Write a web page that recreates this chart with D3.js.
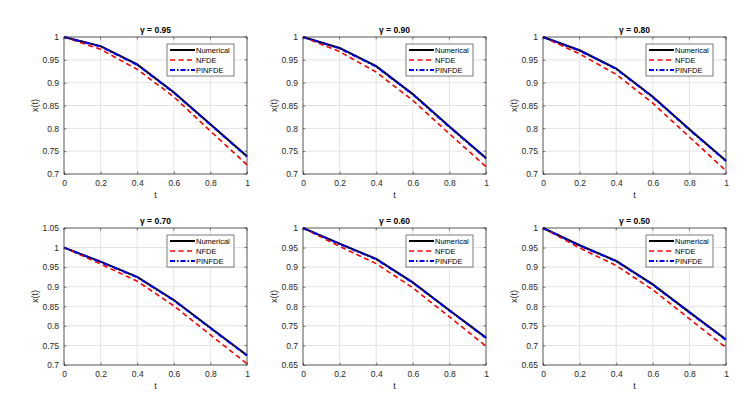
<!DOCTYPE html>
<html>
<head>
<meta charset="utf-8">
<script src="https://cdn.jsdelivr.net/npm/d3@7"></script>
<style>
  body { margin: 0; background: #fff; }
  svg { font-family: "Liberation Sans", Arial, sans-serif; }
</style>
</head>
<body>
<svg id="fig"></svg>
<script>
const width = 748;
const height = 404;

// data
const tValues = [0, 0.2, 0.4, 0.6, 0.8, 1];
const gammas = ["0.95", "0.90", "0.80", "0.70", "0.60", "0.50"];
const numerical = [
  [1, 0.980, 0.940, 0.879, 0.809, 0.739],
  [1, 0.976, 0.936, 0.875, 0.804, 0.735],
  [1, 0.971, 0.931, 0.869, 0.798, 0.729],
  [1, 0.964, 0.925, 0.866, 0.795, 0.725],
  [1, 0.960, 0.921, 0.861, 0.790, 0.720],
  [1, 0.956, 0.916, 0.856, 0.785, 0.715]
];
const nfde = [
  [1, 0.973, 0.929, 0.869, 0.794, 0.720],
  [1, 0.968, 0.923, 0.861, 0.788, 0.716],
  [1, 0.963, 0.918, 0.855, 0.781, 0.707],
  [1, 0.958, 0.914, 0.851, 0.777, 0.703],
  [1, 0.953, 0.909, 0.847, 0.773, 0.698],
  [1, 0.949, 0.904, 0.842, 0.768, 0.694]
];
const pinfde = [
  [1, 0.979, 0.939, 0.878, 0.808, 0.738],
  [1, 0.975, 0.935, 0.874, 0.803, 0.734],
  [1, 0.970, 0.930, 0.868, 0.797, 0.728],
  [1, 0.963, 0.924, 0.865, 0.794, 0.724],
  [1, 0.959, 0.920, 0.860, 0.789, 0.719],
  [1, 0.955, 0.915, 0.855, 0.784, 0.714]
];
const yDomains = [
  [0.7, 1], [0.7, 1], [0.7, 1],
  [0.7, 1.05], [0.65, 1], [0.65, 1]
];
const xTicks = [0, 0.2, 0.4, 0.6, 0.8, 1];
const seriesNames = ["Numerical", "NFDE", "PINFDE"];

const colLeft = [64, 303, 543];
const rowTop = [37, 228];
const axW = 183;
const axH = 137;

const styles = [
  { color: "#000000", width: 2, dash: null },
  { color: "#ff0000", width: 1.6, dash: "5,3.5" },
  { color: "#0000ff", width: 2, dash: "5,2,1.5,2" }
];

const svg = d3.select("#fig").attr("width", width).attr("height", height);

function fmt(v) {
  return String(+v.toFixed(2));
}

gammas.forEach((g, i) => {
  const ox = colLeft[i % 3];
  const oy = rowTop[Math.floor(i / 3)];
  const ax = svg.append("g").attr("transform", `translate(${ox},${oy})`);

  const x = d3.scaleLinear().domain([0, 1]).range([0, axW]);
  const y = d3.scaleLinear().domain(yDomains[i]).range([axH, 0]);
  const yTicks = d3.range(yDomains[i][0], yDomains[i][1] + 1e-9, 0.05);

  // grid
  ax.append("g")
    .selectAll("line")
    .data(xTicks)
    .join("line")
    .attr("x1", (d) => x(d)).attr("x2", (d) => x(d))
    .attr("y1", 0).attr("y2", axH)
    .attr("stroke", "#e3e3e3").attr("stroke-width", 1);
  ax.append("g")
    .selectAll("line")
    .data(yTicks)
    .join("line")
    .attr("x1", 0).attr("x2", axW)
    .attr("y1", (d) => y(d)).attr("y2", (d) => y(d))
    .attr("stroke", "#e3e3e3").attr("stroke-width", 1);

  // curves
  [numerical[i], nfde[i], pinfde[i]].forEach((vals, k) => {
    const s = styles[k];
    ax.append("path")
      .datum(vals)
      .attr("fill", "none")
      .attr("stroke", s.color)
      .attr("stroke-width", s.width)
      .attr("stroke-dasharray", s.dash)
      .attr("d", d3.line().x((d, j) => x(tValues[j])).y((d) => y(d)));
  });

  // axes (ticks pointing inward, MATLAB style)
  const xAxis = d3.axisBottom(x).tickValues(xTicks).tickSize(-2.5).tickPadding(6).tickFormat(fmt);
  const yAxis = d3.axisLeft(y).tickValues(yTicks).tickSize(-2.5).tickPadding(5).tickFormat(fmt);
  const gx = ax.append("g").attr("transform", `translate(0,${axH})`).call(xAxis);
  const gy = ax.append("g").call(yAxis);
  [gx, gy].forEach((a) => {
    a.select(".domain").remove();
    a.selectAll("line").attr("stroke", "#262626").attr("stroke-width", 0.6);
    a.selectAll("text").attr("fill", "#262626").style("font-size", "8.5px");
  });

  // box
  ax.append("rect")
    .attr("width", axW).attr("height", axH)
    .attr("fill", "none").attr("stroke", "#262626").attr("stroke-width", 0.7);

  // top/right ticks
  ax.append("g").selectAll("line")
    .data(xTicks).join("line")
    .attr("x1", (d) => x(d)).attr("x2", (d) => x(d))
    .attr("y1", 0).attr("y2", 2.5)
    .attr("stroke", "#262626").attr("stroke-width", 0.6);
  ax.append("g").selectAll("line")
    .data(yTicks).join("line")
    .attr("x1", axW).attr("x2", axW - 2.5)
    .attr("y1", (d) => y(d)).attr("y2", (d) => y(d))
    .attr("stroke", "#262626").attr("stroke-width", 0.6);

  // labels
  ax.append("text")
    .attr("x", axW / 2).attr("y", -4)
    .attr("text-anchor", "middle")
    .style("font-size", "8.5px").style("font-weight", "bold")
    .attr("fill", "#000")
    .text(`γ = ${g}`);
  ax.append("text")
    .attr("x", axW / 2).attr("y", axH + 24)
    .attr("text-anchor", "middle")
    .style("font-size", "9px")
    .attr("fill", "#262626")
    .text("t");
  ax.append("text")
    .attr("transform", `translate(-26,${axH / 2}) rotate(-90)`)
    .attr("text-anchor", "middle")
    .style("font-size", "9px")
    .attr("fill", "#262626")
    .text("x(t)");

  // legend
  const lg = ax.append("g").attr("transform", `translate(${axW - 80},7)`);
  lg.append("rect")
    .attr("width", 67).attr("height", 32)
    .attr("fill", "#fff").attr("stroke", "#262626").attr("stroke-width", 0.6);
  seriesNames.forEach((name, k) => {
    const s = styles[k];
    const ly = 6 + k * 10;
    lg.append("line")
      .attr("x1", 3).attr("x2", 28)
      .attr("y1", ly).attr("y2", ly)
      .attr("stroke", s.color)
      .attr("stroke-width", s.width)
      .attr("stroke-dasharray", s.dash);
    lg.append("text")
      .attr("x", 29).attr("y", ly + 3)
      .style("font-size", "7.5px")
      .attr("fill", "#000")
      .text(name);
  });
});
</script>
</body>
</html>
